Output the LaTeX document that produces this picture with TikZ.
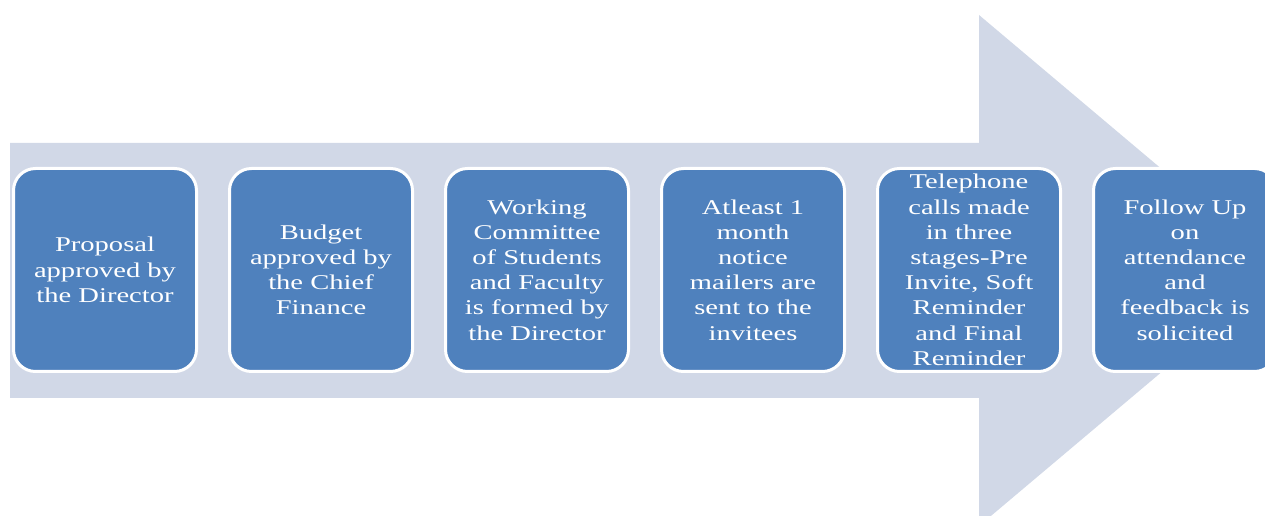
\documentclass[tikz,border=0pt]{standalone}
\usepackage{fontspec}
\newfontfamily\stepfont[FakeStretch=1.36]{Liberation Serif}
\usetikzlibrary{positioning}
\definecolor{arrowgrey}{HTML}{D1D8E7}
\definecolor{stepblue}{HTML}{4F81BD}
\tikzset{stepbox/.style={draw=white,line width=3pt,fill=stepblue,rounded corners=22pt,
  minimum width=183pt,minimum height=203pt,inner sep=0pt,text=white,align=center,
  font=\stepfont\fontsize{21}{25.2}\selectfont}}
\begin{document}
\begin{tikzpicture}[x=1pt,y=1pt,node distance=30pt]
\useasboundingbox (0,0) rectangle (1265,516);
\clip (0,0) rectangle (1265,516);
% big arrow behind the steps
\fill[arrowgrey](10,118)--(10,373)--(979,373)--(979,501)--(1282,245.5)--(979,-10)--(979,118)--cycle;
\node[stepbox] (s1) at (105,246) {Proposal\\approved by\\the Director};
\node[stepbox,right=of s1] (s2) {Budget\\approved by\\the Chief\\Finance};
\node[stepbox,right=of s2] (s3) {Working\\Committee\\of Students\\and Faculty\\is formed by\\the Director};
\node[stepbox,right=of s3] (s4) {Atleast 1\\month\\notice\\mailers are\\sent to the\\invitees};
\node[stepbox,right=of s4] (s5) {Telephone\\calls made\\in three\\stages-Pre\\Invite, Soft\\Reminder\\and Final\\Reminder};
\node[stepbox,right=of s5] (s6) {Follow Up\\on\\attendance\\and\\feedback is\\solicited};
\end{tikzpicture}
\end{document}
